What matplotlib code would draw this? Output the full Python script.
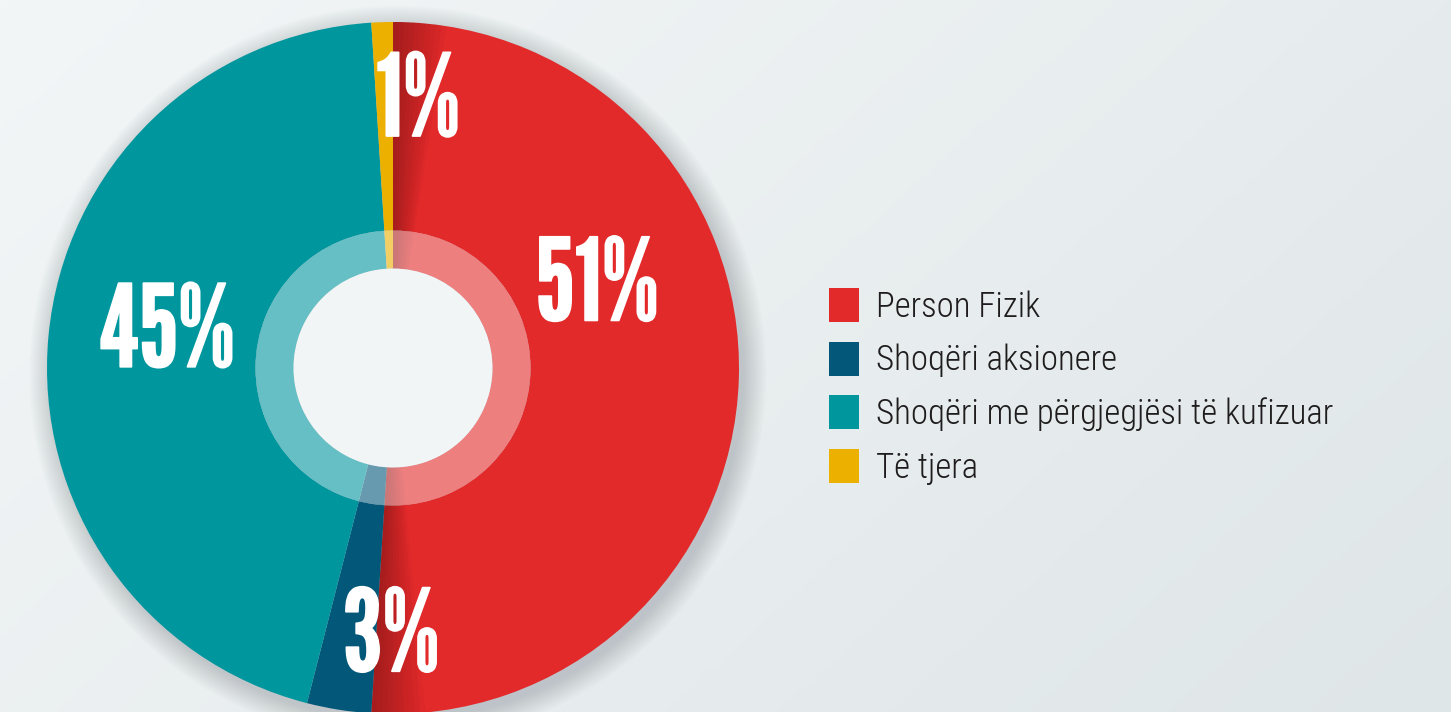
import numpy as np
import matplotlib.pyplot as plt
import matplotlib.patheffects as pe
from matplotlib import font_manager
from matplotlib.colors import LinearSegmentedColormap
from matplotlib.patches import Circle, Wedge

# data
labels = ["Person Fizik", "Shoqëri aksionere",
          "Shoqëri me përgjegjësi të kufizuar", "Të tjera"]
shares = [51, 3, 45, 1]
pct_labels = ["51%", "3%", "45%", "1%"]
colors = ["#e32a2b", "#03587a", "#00969e", "#ebb000"]

names = {f.name for f in font_manager.fontManager.ttflist}
big_font = [f for f in ["League Gothic", "Bebas Neue"] if f in names] + ["DejaVu Sans"]
leg_font = [f for f in ["Roboto Condensed", "Archivo Narrow"] if f in names] + ["DejaVu Sans"]

W, H = 1451, 712
fig = plt.figure(figsize=(W / 100, H / 100), dpi=100)

# soft background gradient
bg = fig.add_axes([0, 0, 1, 1])
gx, gy = np.meshgrid(np.linspace(0, 1, 300), np.linspace(0, 1, 150))
cmap = LinearSegmentedColormap.from_list("bg", ["#f3f6f7", "#dfe6e8"])
bg.imshow(0.65 * gx + 0.35 * gy, cmap=cmap, aspect="auto", origin="upper",
          extent=[0, 1, 0, 1], vmin=0, vmax=1)
bg.axis("off")

# pie axes, centre and radius in pixels
cx, cy, R = 393, 368, 346
ax = fig.add_axes([(cx - R) / W, (H - cy - R) / H, 2 * R / W, 2 * R / H])
r_ring = 137.5 / R
r_hole = 99.5 / R

# drop shadow
for k in range(14):
    ax.add_patch(Circle((0.014, -0.018), 1 + 0.005 * k, fc="#50616a",
                        alpha=0.02, lw=0, zorder=0, clip_on=False))

wedges, _ = ax.pie(shares, colors=colors, startangle=90, counterclock=False,
                   radius=1, wedgeprops=dict(width=1 - r_ring, linewidth=0))
ax.pie(shares, colors=colors, startangle=90, counterclock=False,
       radius=r_ring, wedgeprops=dict(width=r_ring - r_hole, linewidth=0))
for w in wedges:
    w.set_clip_on(False)

# darker edges on the red slice (3d look)
start = 90
end = 90 - 360 * shares[0] / sum(shares)
for i in range(10):
    ax.add_patch(Wedge((0, 0), 1, start - 0.9 * (i + 1), start, width=1 - r_hole,
                       fc="black", alpha=0.028, lw=0, clip_on=False))
    ax.add_patch(Wedge((0, 0), 1, end, end + 0.9 * (i + 1), width=1 - r_hole,
                       fc="black", alpha=0.028, lw=0, clip_on=False))

# light inner ring + hole
ax.add_patch(Wedge((0, 0), r_ring, 0, 360, width=r_ring - r_hole,
                   fc="white", alpha=0.4, lw=0))
ax.add_patch(Circle((0, 0), r_hole, fc="#f1f5f6", lw=0))

# percentage labels
label_pos = [(0.59, 0.227), (-0.006, -0.787), (-0.653, 0.093), (0.072, 0.76)]
for txt, (x, y) in zip(pct_labels, label_pos):
    ax.text(x, y, txt, ha="center", va="center", color="white",
            fontsize=82, family=big_font,
            path_effects=[pe.withStroke(linewidth=1.2, foreground="white")])

ax.set_xlim(-1, 1)
ax.set_ylim(-1, 1)
ax.axis("off")

fig.legend(wedges, labels, loc="upper left",
           bbox_to_anchor=(829 / W, 1 - 288 / H), frameon=False,
           prop=dict(family=leg_font, weight="light", size=25), labelcolor="#1e1c1d",
           handlelength=0.85, handleheight=1.12, handletextpad=0.5,
           labelspacing=0.52, borderpad=0, borderaxespad=0)

fig.savefig("out.png", dpi=100)
